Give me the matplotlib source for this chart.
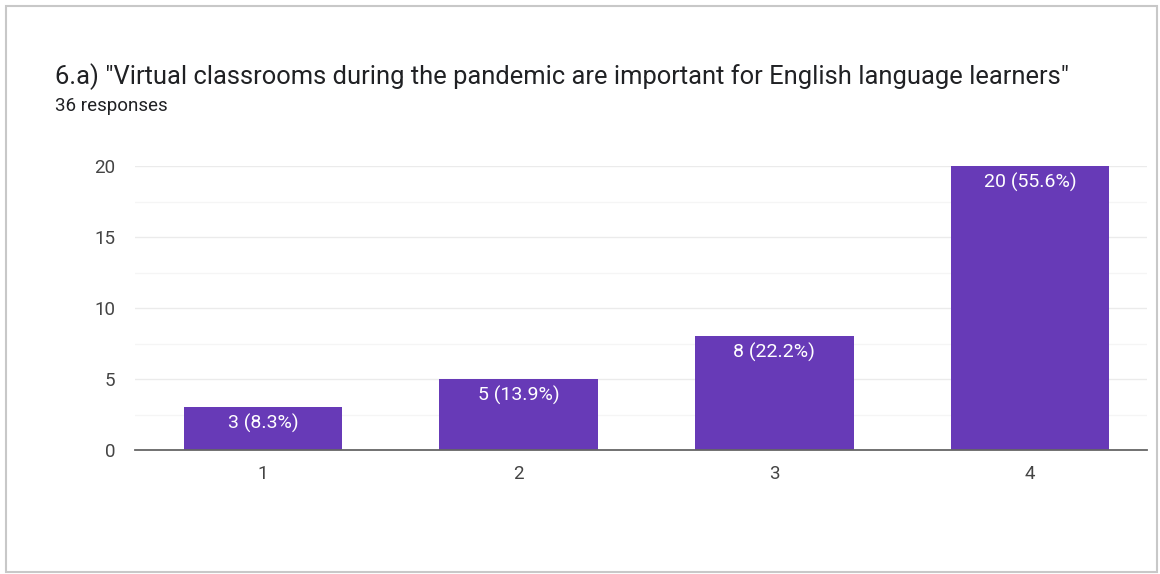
import numpy as np
import matplotlib.pyplot as plt
from matplotlib.patches import Rectangle

categories = ['1', '2', '3', '4']
counts = [3, 5, 8, 20]
percents = [8.3, 13.9, 22.2, 55.6]
yticks = [0, 5, 10, 15, 20]

plt.rcParams['font.family'] = ['Roboto', 'DejaVu Sans']

fig = plt.figure(figsize=(11.6, 5.74), dpi=100)

# card border
fig.patches.append(Rectangle((0.005, 0.004), 0.992, 0.985, transform=fig.transFigure,
                             fill=False, edgecolor='#c8c8c8', linewidth=1.5))

fig.text(55/1160, 1 - 77/574, '6.a) "Virtual classrooms during the pandemic are important for English language learners"',
         fontsize=18.4, color='#202124', va='center', ha='left')
fig.text(55/1160, 1 - 106/574, '36 responses', fontsize=13.5, color='#202124', va='center', ha='left')

ax = fig.add_axes([135/1160, 1 - 450/574, (1147 - 135)/1160, (450 - 166)/574])
x = np.arange(1, len(categories) + 1)
ax.bar(x, counts, width=0.62, color='#673ab7', zorder=3)
ax.set_xlim(0.5, 4.457)
ax.set_ylim(0, 20)
ax.set_yticks(yticks)
ax.set_yticks(np.arange(2.5, 20, 5), minor=True)
ax.set_xticks(x)
ax.set_xticklabels(categories)
ax.grid(axis='y', which='major', color='#ebebeb', linewidth=1, zorder=0)
ax.grid(axis='y', which='minor', color='#f5f5f5', linewidth=1, zorder=0)
for s in ['top', 'right', 'left']:
    ax.spines[s].set_visible(False)
ax.spines['bottom'].set_color('#666666')
ax.spines['bottom'].set_linewidth(1.3)
ax.spines['bottom'].set_zorder(4)
ax.tick_params(axis='both', which='both', length=0, labelsize=13.5, colors='#444444')
ax.tick_params(axis='y', pad=14)
ax.tick_params(axis='x', pad=11)

for xi, c, p in zip(x, counts, percents):
    ax.text(xi, c - 0.45, f'{c} ({p}%)', ha='center', va='top', color='white', fontsize=14, zorder=4)

fig.savefig('out.png', dpi=100)
